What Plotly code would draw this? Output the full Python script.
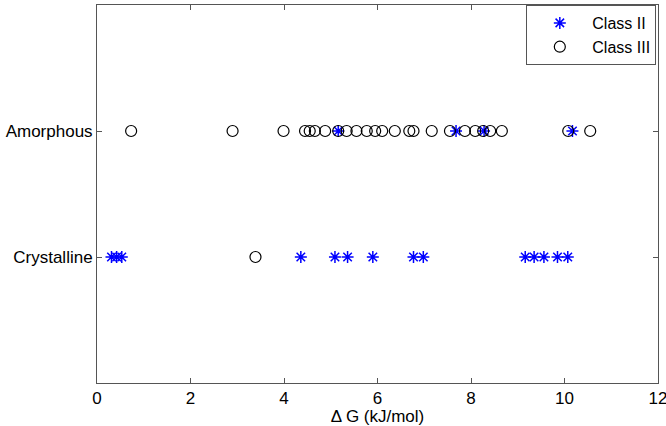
import plotly.graph_objects as go

# Values (ΔG in kJ/mol)
amorph_class2 = [5.16, 7.68, 8.28, 10.17]
amorph_class3 = [0.73, 2.90, 3.99, 4.45, 4.55, 4.66, 4.88, 5.16, 5.34, 5.55, 5.77,
                 5.95, 6.10, 6.37, 6.68, 6.77, 7.16, 7.55, 7.87, 8.09, 8.26, 8.41,
                 8.66, 10.08, 10.55]
cryst_class2 = [0.31, 0.42, 0.53, 4.36, 5.09, 5.36, 5.90, 6.77, 6.98, 9.16, 9.35,
                9.56, 9.85, 10.07]
cryst_class3 = [3.39]

categories = ["Crystalline", "Amorphous"]
cat_pos = [1, 2]

fig = go.Figure()

fig.add_trace(go.Scatter(
    x=cryst_class2 + amorph_class2,
    y=[cat_pos[0]] * len(cryst_class2) + [cat_pos[1]] * len(amorph_class2),
    mode="markers", name="Class II",
    marker=dict(symbol="asterisk-open", size=10, color="#0000ff",
                line=dict(color="#0000ff", width=1.5)),
))
fig.add_trace(go.Scatter(
    x=cryst_class3 + amorph_class3,
    y=[cat_pos[0]] * len(cryst_class3) + [cat_pos[1]] * len(amorph_class3),
    mode="markers", name="Class III",
    marker=dict(symbol="circle-open", size=11, color="black",
                line=dict(color="black", width=1.2)),
))

axis_style = dict(showline=True, linecolor="#555555", linewidth=1, mirror="ticks",
                  ticks="inside", ticklen=5, tickcolor="#555555", showgrid=False,
                  zeroline=False, tickfont=dict(size=17, color="black"),
                  ticklabeloverflow="allow", automargin=False)

fig.update_xaxes(range=[0, 12], dtick=2,
                 title=dict(text="Δ G (kJ/mol)", font=dict(size=17, color="black"),
                            standoff=0),
                 **axis_style)
fig.update_yaxes(range=[0, 3], tickvals=cat_pos, ticktext=categories, **axis_style)

fig.update_layout(
    width=666, height=426,
    margin=dict(l=97, r=8, t=5, b=43),
    plot_bgcolor="white", paper_bgcolor="white",
    font=dict(family="Liberation Sans, Arial, sans-serif", color="black"),
    legend=dict(x=0.997, y=1.0, xanchor="right", yanchor="top",
                bordercolor="#555555", borderwidth=1, bgcolor="white",
                font=dict(size=16), tracegroupgap=0, itemwidth=55),
)

fig.write_html("out.html", config={"displayModeBar": False},
               post_script="document.body.style.margin='0';")
